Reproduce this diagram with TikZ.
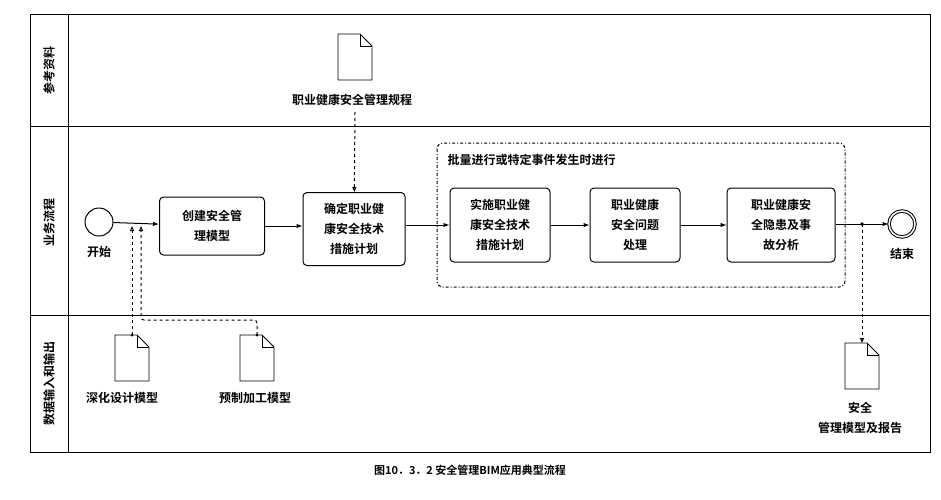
\documentclass[tikz,border=0pt]{standalone}
\usepackage{fontspec}
\setmainfont{Noto Sans CJK SC}[BoldFont={Noto Sans CJK SC Bold}]
\usetikzlibrary{arrows.meta}
\begin{document}
\begin{tikzpicture}[x=1pt,y=-1pt,line width=1pt,
  font=\bfseries\fontsize{12}{20}\selectfont,
  box/.style={draw,rounded corners=4pt,align=center,inner sep=0pt},
  flow/.style={-{Latex[length=6pt,width=4.5pt]}},
  assoc/.style={dashed,-{Triangle[open,length=5pt,width=4pt]}},
  lbl/.style={inner sep=1pt,align=center}]
\useasboundingbox (0,0) rectangle (941,499);
% frame
\draw (30,14) rectangle (930,452);
\draw (68,14) -- (68,452);
\draw (30,126) -- (930,126);
\draw (30,315) -- (930,315);
\node[rotate=90] (l1) at (49,70) {参考资料};
\node[rotate=90] (l2) at (49,222) {业务流程};
\node[rotate=90] (l3) at (49,383) {数据输入和输出};
% group
\draw[dash dot,rounded corners=6pt] (437,143) rectangle (845,287);
\node[lbl,anchor=west] (g) at (446,160) {批量进行或特定事件发生时进行};
% events
\node[draw,circle,minimum size=28pt,inner sep=0pt] (start) at (99,222) {};
\node[lbl] (startl) at (99,252) {开始};
\node[draw,circle,double,double distance=1.5pt,minimum size=26pt,inner sep=0pt] (end) at (902,224) {};
\node[lbl] (endl) at (902,254) {结束};
% boxes
\node[box,minimum width=105pt,minimum height=58pt] (b1) at (212,226) {创建安全管\\理模型};
\node[box,minimum width=102pt,minimum height=73pt] (b2) at (354,229) {确定职业健\\康安全技术\\措施计划};
\node[box,minimum width=100pt,minimum height=74pt] (b3) at (500,225) {实施职业健\\康安全技术\\措施计划};
\node[box,minimum width=90pt,minimum height=74pt] (b4) at (635,225) {职业健康\\安全问题\\处理};
\node[box,minimum width=108pt,minimum height=74pt] (b5) at (781,225) {职业健康安\\全隐患及事\\故分析};
% documents
\newcommand{\mydoc}[2]{%
 \draw[line width=0.9pt] (#1-17,#2-23) -- (#1+5,#2-23) -- (#1+17,#2-11) -- (#1+17,#2+23) -- (#1-17,#2+23) -- cycle;
 \draw[line width=0.9pt] (#1+5,#2-23) -- (#1+5,#2-11) -- (#1+17,#2-11);}
\mydoc{355}{57}
\mydoc{132}{358}
\mydoc{257}{358}
\mydoc{862}{366}
\coordinate (d0) at (355,112);
\coordinate (d1) at (132,335);
\coordinate (d2) at (257,335);
\coordinate (d3) at (862,343);
\node[lbl] (t0) at (352,100) {职业健康安全管理规程};
\node[lbl] (t1) at (122,398) {深化设计模型};
\node[lbl] (t2) at (255,398) {预制加工模型};
\node[lbl] (t3) at (860,418) {安全\\管理模型及报告};
% flows
\coordinate (j) at (862,224);
\draw[flow] (start) -- (b1);
\draw[flow] (b1) -- (b2.west|-b1);
\draw[flow] (b2.east|-b3) -- (b3);
\draw[flow] (b3) -- (b4);
\draw[flow] (b4) -- (b5);
\draw[flow] (b5.east|-end) -- (end);
\fill (j) circle (1.8pt);
\fill (d1) circle (1.5pt);
\fill (d2) circle (1.5pt);
\draw[assoc] (d0) -- (b2);
\draw[assoc] (d1) -- (132,226);
\draw[assoc,rounded corners=3pt] (d2) -- (257,320) -- (141,320) -- (141,226);
\draw[assoc] (j) -- (d3);
% caption
\node[font=\bfseries\fontsize{11}{12}\selectfont] (cap) at (470,470) {图10．3．2 安全管理BIM应用典型流程};
\end{tikzpicture}
\end{document}
